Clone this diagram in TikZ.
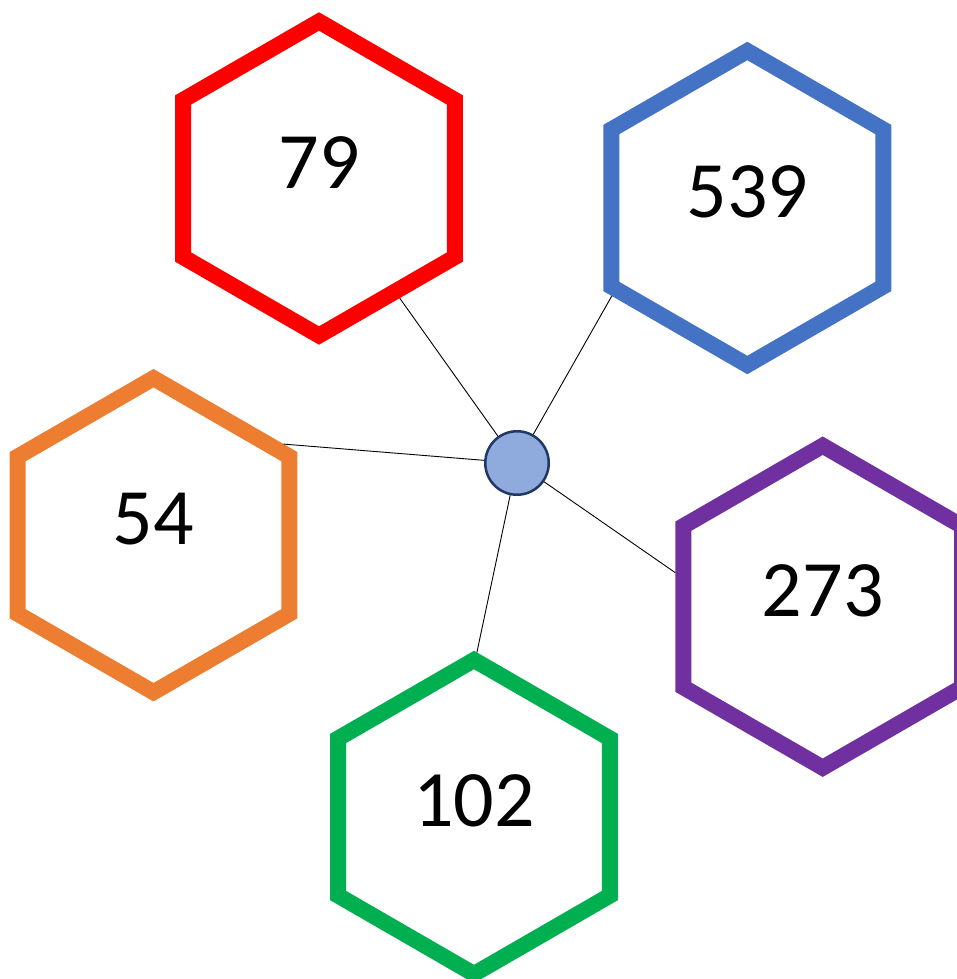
\documentclass[tikz,border=0pt]{standalone}
\usepackage{fontspec}
\setmainfont{Carlito}
\usepackage{tikz}
\usetikzlibrary{shapes.geometric}

\definecolor{hexred}{HTML}{FF0000}
\definecolor{hexblue}{HTML}{4472C4}
\definecolor{hexorange}{HTML}{ED7D31}
\definecolor{hexpurple}{HTML}{7030A0}
\definecolor{hexgreen}{HTML}{00B050}
\definecolor{hubfill}{HTML}{8FAADC}
\definecolor{hubline}{HTML}{1F3864}

\begin{document}
\begin{tikzpicture}[
        x=1pt, y=-1pt,
        hexa/.style={regular polygon, regular polygon sides=6, shape border rotate=30, draw=#1, line width=16pt, minimum size=314pt, inner sep=0pt, text depth=32pt, font=\fontsize{80}{96}\selectfont},
        central/.style={circle, draw=hubline, fill=hubfill, line width=2.5pt, minimum size=63.5pt, inner sep=0pt},
        spoke/.style={draw=black, line width=0.9pt}
    ]
    \useasboundingbox (0,0) rectangle (957,979);

    % Central hub
    \node[central] (hub) at (517,463) {};

    % Hexagons round the hub
    \node[hexa=hexred] (red) at (319,178.5) {79};
    \node[hexa=hexblue] (blue) at (747.3,208) {539};
    \node[hexa=hexorange] (orange) at (153.5,535.2) {54};
    \node[hexa=hexpurple, minimum size=322pt] (purple) at (822.7,606.7) {273};
    \node[hexa=hexgreen] (green) at (474,817) {102};

    % Spokes from hub to hexagons
    \draw[spoke] (hub) -- (red.-56);
    \draw[spoke] (hub) -- (blue.-147);
    \draw[spoke] (hub) -- (orange.35);
    \draw[spoke] (hub) -- (purple.167);
    \draw[spoke] (hub) -- (green.89);

\end{tikzpicture}
\end{document}
